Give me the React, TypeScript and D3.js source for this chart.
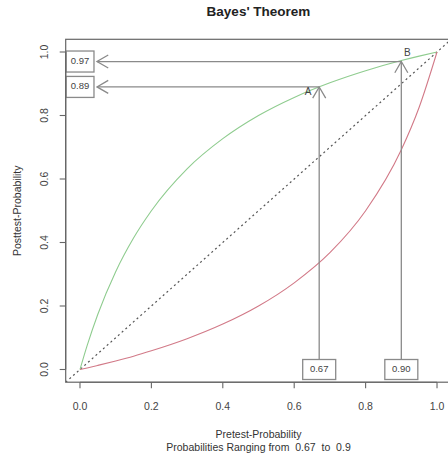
import * as d3 from "d3";
import React from "react";

// curve values (pretest -> posttest)
const pretest = [0, 0.02, 0.05, 0.1, 0.15, 0.2, 0.3, 0.4, 0.5, 0.6, 0.7, 0.8, 0.9, 0.95, 1.0];
const positiveCurve = [0, 0.075, 0.174, 0.308, 0.414, 0.5, 0.632, 0.727, 0.8, 0.857, 0.903, 0.941, 0.973, 0.987, 1.0];
const negativeCurve = [0, 0.005, 0.013, 0.027, 0.042, 0.059, 0.097, 0.143, 0.2, 0.273, 0.368, 0.5, 0.692, 0.826, 1.0];

// the two marked points
const pointNames = ["A", "B"];
const pointPre = [0.67, 0.9];
const pointPost = [0.89, 0.97];
const preLabels = ["0.67", "0.90"];
const postLabels = ["0.89", "0.97"];

const ticks = [0, 0.2, 0.4, 0.6, 0.8, 1.0];

const W = 448;
const H = 457;
const font = "'Liberation Sans', Arial, sans-serif";

const App = () => {
    const x = d3.scaleLinear().domain([-0.04, 1.04]).range([65.7, 451.3]);
    const y = d3.scaleLinear().domain([-0.04, 1.04]).range([382.2, 39.3]);

    const [x0, x1] = x.range();
    const [y0, y1] = y.range();

    const line = d3
        .line<number>()
        .x((_, i) => x(pretest[i]))
        .curve(d3.curveMonotoneX);

    const greenPath = line.y((d) => y(d))(positiveCurve);
    const redPath = line.y((d) => y(d))(negativeCurve);

    // arrow head as two short strokes
    const head = (tx: number, ty: number, angle: number) => {
        const len = 13;
        const spread = Math.PI / 6;
        const p = d3.path();
        p.moveTo(tx + len * Math.cos(angle - spread), ty + len * Math.sin(angle - spread));
        p.lineTo(tx, ty);
        p.lineTo(tx + len * Math.cos(angle + spread), ty + len * Math.sin(angle + spread));
        return p.toString();
    };

    const arrowColor = "#8a8a8a";
    const bottomBoxW = 33;
    const bottomBoxH = 20;
    const leftBoxW = 28;
    const leftBoxH = 21;

    return (
        <svg width={W} height={H} style={{ position: "absolute", left: 0, top: 0, background: "#fff" }} fontFamily={font}>
            <defs>
                <clipPath id="plotClip">
                    <rect x={x0} y={y1} width={x1 - x0} height={y0 - y1} />
                </clipPath>
            </defs>

            <text x={(x0 + x1) / 2} y={12} textAnchor="middle" dominantBaseline="middle" fontSize={13.5} fontWeight="bold" fill="#222">
                Bayes' Theorem
            </text>

            <g clipPath="url(#plotClip)">
                <line x1={x(-0.04)} y1={y(-0.04)} x2={x(1.04)} y2={y(1.04)} stroke="#555" strokeWidth={1.2} strokeDasharray="2,3" />
                <path d={greenPath ?? ""} fill="none" stroke="#8fcc8f" strokeWidth={1.1} />
                <path d={redPath ?? ""} fill="none" stroke="#d27a88" strokeWidth={1.1} />

                {pointPre.map((p, i) => {
                    const px = x(p);
                    const py = y(pointPost[i]);
                    const bottomTop = y(0) - bottomBoxH / 2;
                    const tipX = x(0) + leftBoxW / 2 + 3;
                    return (
                        <g key={i} stroke={arrowColor} strokeWidth={1.3} fill="none">
                            <line x1={px} y1={bottomTop} x2={px} y2={py} />
                            <path d={head(px, py, Math.PI / 2)} />
                            <line x1={px} y1={py} x2={tipX} y2={py} />
                            <path d={head(tipX, py, 0)} />
                            <rect x={px - bottomBoxW / 2} y={bottomTop} width={bottomBoxW} height={bottomBoxH} fill="#fff" />
                            <rect x={x(0) - leftBoxW / 2} y={py - leftBoxH / 2} width={leftBoxW} height={leftBoxH} fill="#fff" />
                        </g>
                    );
                })}
                {pointPre.map((p, i) => (
                    <g key={"t" + i} fontSize={9.5} fill="#444" textAnchor="middle" dominantBaseline="middle">
                        <text x={x(p)} y={y(0)}>{preLabels[i]}</text>
                        <text x={x(0)} y={y(pointPost[i])}>{postLabels[i]}</text>
                    </g>
                ))}
                <text x={x(pointPre[0]) - 11} y={y(pointPost[0]) + 5} fontSize={10} fill="#444" textAnchor="middle" dominantBaseline="middle">
                    {pointNames[0]}
                </text>
                <text x={x(pointPre[1]) + 6} y={y(pointPost[1]) - 8} fontSize={10} fill="#444" textAnchor="middle" dominantBaseline="middle">
                    {pointNames[1]}
                </text>
            </g>

            <rect x={x0} y={y1} width={x1 - x0} height={y0 - y1} fill="none" stroke="#666" strokeWidth={1.2} />

            {/* x axis */}
            <g stroke="#666" strokeWidth={1.1}>
                <line x1={x(0)} x2={x(1)} y1={y0} y2={y0} />
                {ticks.map((t) => (
                    <line key={t} x1={x(t)} x2={x(t)} y1={y0} y2={y0 + 6} />
                ))}
            </g>
            {ticks.map((t) => (
                <text key={t} x={x(t)} y={407} textAnchor="middle" dominantBaseline="middle" fontSize={10.5} fill="#444">
                    {t.toFixed(1)}
                </text>
            ))}

            {/* y axis */}
            <g stroke="#666" strokeWidth={1.1}>
                <line x1={x0} x2={x0} y1={y(0)} y2={y(1)} />
                {ticks.map((t) => (
                    <line key={t} x1={x0} x2={x0 - 6} y1={y(t)} y2={y(t)} />
                ))}
            </g>
            {ticks.map((t) => (
                <text key={t} transform={`translate(45,${y(t)}) rotate(-90)`} textAnchor="middle" dominantBaseline="middle" fontSize={10.5} fill="#444">
                    {t.toFixed(1)}
                </text>
            ))}

            <text x={(x0 + x1) / 2} y={435} textAnchor="middle" dominantBaseline="middle" fontSize={10.5} fill="#333">
                Pretest-Probability
            </text>
            <text x={(x0 + x1) / 2} y={448} textAnchor="middle" dominantBaseline="middle" fontSize={10.5} fill="#333" style={{ whiteSpace: "pre" }}>
                {"Probabilities Ranging from  0.67  to  0.9"}
            </text>
            <text transform={`translate(18,${(y0 + y1) / 2}) rotate(-90)`} textAnchor="middle" dominantBaseline="middle" fontSize={10.5} fill="#333">
                Posttest-Probability
            </text>
        </svg>
    );
};

export default App;
